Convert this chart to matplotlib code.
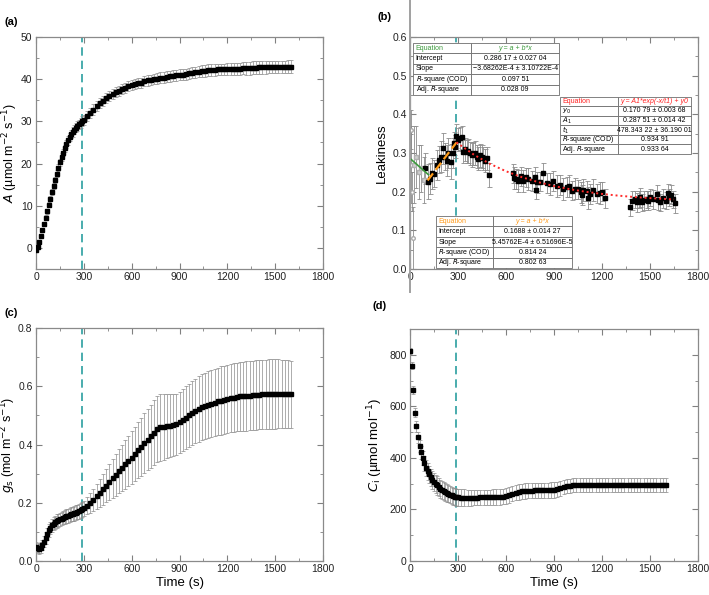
import matplotlib
matplotlib.use('Agg')
import matplotlib.pyplot as plt
from matplotlib.table import Table
from matplotlib.lines import Line2D
from matplotlib.ticker import MultipleLocator, FormatStrFormatter

plt.rcParams['font.family'] = ['Liberation Sans', 'DejaVu Sans']

# time grid (s): 10 s steps at first, then 20 s
time = list(range(0, 300, 10)) + list(range(300, 1601, 20))

A_mean = [-0.5, 0.3, 1.5, 2.8, 4.2, 5.7, 7.2, 8.7, 10.2, 11.7,
          13.2, 14.7, 16.1, 17.6, 19.0, 20.3, 21.5, 22.6, 23.6, 24.6,
          25.5, 26.3, 27.0, 27.5, 28.0, 28.5, 28.9, 29.3, 29.7, 30.0,
          30.4, 31.2, 32.0, 32.8, 33.6,
          34.3, 34.9, 35.5, 36.0, 36.5,
          36.9, 37.3, 37.7, 38.0, 38.3,
          38.6, 38.8, 39.0, 39.2, 39.5,
          39.7, 39.8, 40.0, 40.1, 40.3,
          40.4, 40.6, 40.7, 40.8, 40.9,
          41.0, 41.1, 41.2, 41.4, 41.5,
          41.7, 41.8, 41.9, 42.0, 42.1,
          42.1, 42.2, 42.3, 42.3, 42.3,
          42.4, 42.4, 42.5, 42.5, 42.5,
          42.6, 42.6, 42.6, 42.7, 42.7,
          42.8, 42.8, 42.8, 42.9, 42.9,
          42.9, 42.9, 42.9, 42.9, 43.0,
          43.0]
A_err = [0.3, 0.3, 0.4, 0.4, 0.5, 0.5, 0.5, 0.6, 0.6, 0.6,
         0.7, 0.7, 0.7, 0.8, 0.8, 0.8, 0.9, 0.9, 0.9, 1.0,
         1.0, 1.0, 1.0, 1.1, 1.1, 1.1, 1.1, 1.1, 1.2, 1.2,
         1.2, 1.2, 1.2, 1.2, 1.2,
         1.2, 1.2, 1.2, 1.2, 1.2,
         1.2, 1.2, 1.2, 1.2, 1.2,
         1.2, 1.2, 1.2, 1.2, 1.2,
         1.2, 1.2, 1.2, 1.3, 1.3,
         1.3, 1.3, 1.3, 1.3, 1.3,
         1.3, 1.3, 1.3, 1.3, 1.3,
         1.3, 1.3, 1.4, 1.4, 1.4,
         1.4, 1.4, 1.4, 1.4, 1.4,
         1.4, 1.4, 1.4, 1.4, 1.4,
         1.4, 1.5, 1.5, 1.5, 1.5,
         1.5, 1.5, 1.5, 1.5, 1.5,
         1.5, 1.5, 1.5, 1.5, 1.5,
         1.5]

gs_mean = [0.048, 0.044, 0.041, 0.046, 0.055, 0.067, 0.080, 0.093, 0.105, 0.114,
           0.122, 0.128, 0.133, 0.137, 0.140, 0.143, 0.146, 0.149, 0.151, 0.153,
           0.155, 0.158, 0.160, 0.162, 0.164, 0.166, 0.169, 0.171, 0.174, 0.177,
           0.181, 0.190, 0.200, 0.211, 0.222,
           0.234, 0.246, 0.259, 0.271, 0.284,
           0.296, 0.308, 0.320, 0.332, 0.343,
           0.355, 0.367, 0.380, 0.392, 0.405,
           0.417, 0.429, 0.441, 0.452, 0.460,
           0.461, 0.463, 0.465, 0.467, 0.470,
           0.476, 0.484, 0.492, 0.500, 0.508,
           0.515, 0.522, 0.528, 0.532, 0.536,
           0.540, 0.544, 0.548, 0.551, 0.554,
           0.557, 0.559, 0.561, 0.563, 0.565,
           0.566, 0.567, 0.568, 0.569, 0.570,
           0.571, 0.572, 0.572, 0.573, 0.573,
           0.574, 0.574, 0.574, 0.574, 0.573,
           0.573]
gs_err = [0.018, 0.018, 0.018, 0.018, 0.018, 0.019, 0.020, 0.020, 0.021, 0.021,
          0.022, 0.022, 0.022, 0.023, 0.023, 0.023, 0.023, 0.023, 0.024, 0.024,
          0.024, 0.024, 0.024, 0.025, 0.025, 0.025, 0.025, 0.025, 0.025, 0.026,
          0.026, 0.030, 0.034, 0.038, 0.043,
          0.048, 0.053, 0.058, 0.063, 0.068,
          0.072, 0.076, 0.080, 0.084, 0.087,
          0.090, 0.093, 0.096, 0.099, 0.102,
          0.105, 0.108, 0.111, 0.113, 0.115,
          0.113, 0.110, 0.108, 0.106, 0.105,
          0.106, 0.107, 0.108, 0.109, 0.110,
          0.111, 0.112, 0.113, 0.114, 0.115,
          0.115, 0.116, 0.116, 0.117, 0.117,
          0.117, 0.117, 0.118, 0.118, 0.118,
          0.118, 0.119, 0.119, 0.119, 0.119,
          0.119, 0.119, 0.119, 0.119, 0.119,
          0.119, 0.118, 0.117, 0.116, 0.116,
          0.115]

Ci_mean = [815, 757, 663, 575, 522, 480, 447, 422, 399, 379,
           362, 348, 336, 324, 315, 307, 300, 293, 286, 279,
           275, 271, 267, 264, 261, 258, 255, 252, 250, 248,
           247, 246, 246, 246, 246,
           246, 246, 247, 247, 247,
           247, 248, 248, 249, 250,
           252, 256, 261, 265, 268,
           270, 272, 273, 273, 274,
           274, 274, 274, 274, 275,
           276, 279, 283, 287, 290,
           292, 294, 295, 296, 296,
           296, 296, 296, 296, 296,
           296, 296, 296, 296, 296,
           296, 296, 296, 296, 296,
           296, 296, 296, 295, 295,
           295, 295, 295, 295, 295,
           295]
Ci_err = [12, 14, 16, 18, 20, 22, 24, 26, 28, 30,
          31, 32, 33, 34, 35, 35, 35, 35, 35, 35,
          35, 35, 35, 34, 34, 34, 33, 33, 33, 33,
          33, 32, 32, 31, 31,
          30, 30, 30, 30, 30,
          30, 30, 30, 30, 30,
          30, 30, 30, 30, 30,
          30, 30, 30, 30, 30,
          30, 30, 30, 30, 30,
          30, 29, 29, 28, 28,
          28, 27, 27, 27, 27,
          27, 27, 27, 27, 27,
          27, 27, 27, 27, 27,
          27, 27, 27, 27, 27,
          27, 27, 27, 27, 27,
          27, 27, 27, 27, 27,
          27]

# leakiness (panel b)
leak_open_t = [4, 8, 12, 16]
leak_open_y = [0.36, 0.27, 0.20, 0.08]
leak_open_err = [0.05, 0.10, 0.05, 0.08]
leak_grey_t = [25, 40, 55, 70, 85]
leak_grey_y = [0.27, 0.29, 0.25, 0.26, 0.23]
leak_grey_err = [0.10, 0.08, 0.07, 0.06, 0.06]

leak_t = [94, 110, 125, 140, 153, 167, 182, 194, 208, 219,
          229, 240, 257, 267, 273, 281, 288, 302, 313, 323,
          333, 343, 354, 364, 375, 385, 396, 406, 417, 427,
          437, 448, 458, 468, 479, 496,
          646, 650, 662, 677, 692, 708, 725, 740, 760, 781,
          790, 796, 812, 833, 854, 875, 896, 917, 937, 954,
          979, 996, 1010, 1031, 1052, 1069, 1074, 1083, 1104, 1115,
          1125, 1142, 1167, 1188, 1198, 1219,
          1375, 1390, 1405, 1417, 1430, 1437, 1450, 1465, 1479, 1490,
          1500, 1520, 1541, 1550, 1562, 1580, 1600, 1614, 1620, 1629,
          1641, 1656]
leak_y = [0.260, 0.226, 0.234, 0.247, 0.246, 0.269, 0.282, 0.290, 0.312, 0.290,
          0.280, 0.300, 0.277, 0.300, 0.325, 0.316, 0.344, 0.334, 0.338, 0.341,
          0.303, 0.310, 0.303, 0.305, 0.299, 0.295, 0.298, 0.300, 0.290, 0.285,
          0.294, 0.290, 0.286, 0.280, 0.286, 0.243,
          0.247, 0.235, 0.233, 0.227, 0.240, 0.228, 0.237, 0.232, 0.228, 0.237,
          0.205, 0.224, 0.226, 0.247, 0.222, 0.220, 0.228, 0.215, 0.217, 0.207,
          0.212, 0.215, 0.203, 0.208, 0.206, 0.198, 0.191, 0.205, 0.202, 0.183,
          0.194, 0.204, 0.195, 0.197, 0.200, 0.183,
          0.160, 0.177, 0.181, 0.172, 0.180, 0.185, 0.172, 0.178, 0.181, 0.177,
          0.185, 0.180, 0.194, 0.178, 0.172, 0.183, 0.177, 0.196, 0.186, 0.192,
          0.180, 0.170]
leak_err = [0.040, 0.045, 0.040, 0.040, 0.035, 0.040, 0.035, 0.040, 0.040, 0.035,
            0.040, 0.040, 0.045, 0.040, 0.030, 0.030, 0.030, 0.030, 0.030, 0.030,
            0.030, 0.030, 0.030, 0.030, 0.030, 0.030, 0.030, 0.030, 0.030, 0.030,
            0.030, 0.030, 0.030, 0.030, 0.030, 0.030,
            0.025, 0.028, 0.025, 0.028, 0.025, 0.028, 0.025, 0.028, 0.025, 0.028,
            0.025, 0.028, 0.025, 0.028, 0.025, 0.028, 0.025, 0.028, 0.025, 0.028,
            0.025, 0.028, 0.025, 0.028, 0.025, 0.028, 0.025, 0.028, 0.025, 0.028,
            0.025, 0.028, 0.025, 0.028, 0.025, 0.025,
            0.022, 0.025, 0.022, 0.025, 0.022, 0.025, 0.022, 0.025, 0.022, 0.025,
            0.022, 0.025, 0.022, 0.025, 0.022, 0.025, 0.022, 0.025, 0.022, 0.025,
            0.022, 0.025]

green_x = [0, 115]
green_y = [0.286, 0.244]
orange_x = [110, 290]
orange_y = [0.229, 0.327]
red_x = [290, 400, 500, 600, 700, 800, 900, 1000, 1100, 1200, 1300, 1400, 1500, 1650]
red_y = [0.3276, 0.2954, 0.2719, 0.2528, 0.2373, 0.2248, 0.2146, 0.2063, 0.1996,
         0.1942, 0.1898, 0.1862, 0.1833, 0.1799]

table_green = [['Equation', 'y = a + b*x'],
               ['Intercept', '0.286 17 \u00b1 0.027 04'],
               ['Slope', '\u22123.68262E-4 \u00b1 3.10722E-4'],
               ['$R$-square (COD)', '0.097 51'],
               ['Adj. $R$-square', '0.028 09']]
table_red = [['Equation', 'y = A1*exp(-x/t1) + y0'],
             ['$y_0$', '0.170 79 \u00b1 0.003 68'],
             ['$A_1$', '0.287 51 \u00b1 0.014 42'],
             ['$t_1$', '478.343 22 \u00b1 36.190 01'],
             ['$R$-square (COD)', '0.934 91'],
             ['Adj. $R$-square', '0.933 64']]
table_orange = [['Equation', 'y = a + b*x'],
                ['Intercept', '0.1688 \u00b1 0.014 27'],
                ['Slope', '5.45762E-4 \u00b1 6.51696E-5'],
                ['$R$-square (COD)', '0.814 24'],
                ['Adj. $R$-square', '0.802 63']]

light_x = 290
teal = '#2a9ea0'
grey = '#8c8c8c'


def style_axes(ax, xmaj, xmin, ymaj, ymin):
    ax.xaxis.set_major_locator(MultipleLocator(xmaj))
    ax.xaxis.set_minor_locator(MultipleLocator(xmin))
    ax.yaxis.set_major_locator(MultipleLocator(ymaj))
    ax.yaxis.set_minor_locator(MultipleLocator(ymin))
    ax.tick_params(which='both', direction='in', top=True, right=True,
                   color='#808080', labelsize=7.5, labelcolor='#222222', pad=2.5)
    ax.tick_params(which='major', length=4)
    ax.tick_params(which='minor', length=2.5)
    for s in ax.spines.values():
        s.set_color('#8a8a8a')
        s.set_linewidth(0.9)


def fit_table(ax, rows, color, bbox, split):
    tbl = Table(ax, bbox=bbox)
    n = len(rows)
    for r, row in enumerate(rows):
        for c, txt in enumerate(row):
            w = split if c == 0 else 1 - split
            cell = tbl.add_cell(r, c, width=w, height=1.0 / n, text=txt,
                                loc='left' if c == 0 else 'center',
                                facecolor='white', edgecolor='#6e6e6e')
            cell.set_linewidth(0.6)
            cell.PAD = 0.04
            t = cell.get_text()
            t.set_fontsize(5.0)
            if r == 0:
                t.set_color(color)
                if c == 1:
                    t.set_fontstyle('italic')
    tbl.auto_set_font_size(False)
    tbl.set_zorder(6)
    ax.add_table(tbl)


def draw_series(ax, y, e):
    ax.errorbar(time, y, yerr=e, fmt='s', ms=2.3, mfc='black', mec='black',
                ecolor=grey, elinewidth=0.5, capsize=1.4, capthick=0.5, zorder=3)


fig = plt.figure(figsize=(7.09, 5.95), dpi=100)

ax_a = fig.add_axes([0.0508, 0.5479, 0.4048, 0.3899])
ax_b = fig.add_axes([0.5783, 0.5479, 0.4062, 0.3899])
ax_c = fig.add_axes([0.0508, 0.0571, 0.4048, 0.3916])
ax_d = fig.add_axes([0.5783, 0.0571, 0.4062, 0.3900])

# (a)
draw_series(ax_a, A_mean, A_err)
ax_a.axvline(light_x, color=teal, ls=(0, (5, 3)), lw=1.2, zorder=2)
ax_a.set_xlim(0, 1800)
ax_a.set_ylim(-5, 50)
style_axes(ax_a, 300, 150, 10, 5)
ax_a.set_ylabel('$A$ (\u00b5mol m$^{-2}$ s$^{-1}$)', fontsize=9)
ax_a.yaxis.set_label_coords(-0.056, 0.5)

# (b)
ax_b.errorbar(leak_open_t, leak_open_y, yerr=leak_open_err, fmt='o', ms=2.6,
              mfc='white', mec='#aaaaaa', ecolor=grey, elinewidth=0.6,
              capsize=1.6, capthick=0.6, zorder=3)
ax_b.errorbar(leak_grey_t, leak_grey_y, yerr=leak_grey_err, fmt='s', ms=2.2,
              mfc='#d0d0d0', mec='#b0b0b0', ecolor=grey, elinewidth=0.6,
              capsize=1.6, capthick=0.6, zorder=3)
ax_b.errorbar(leak_t, leak_y, yerr=leak_err, fmt='s', ms=2.4, mfc='black',
              mec='black', ecolor=grey, elinewidth=0.6, capsize=1.8,
              capthick=0.6, zorder=3)
ax_b.plot(green_x, green_y, color='#3c9a3c', lw=1.2, zorder=4)
ax_b.plot(orange_x, orange_y, color='#ff9c1a', lw=1.6, ls=(0, (4, 2)), zorder=4)
ax_b.plot(red_x, red_y, color='#ff2a2a', lw=1.4, ls=(0, (1, 1.5)), zorder=4)
ax_b.axvline(light_x, color=teal, ls=(0, (5, 3)), lw=1.2, zorder=2)
ax_b.set_xlim(0, 1800)
ax_b.set_ylim(0, 0.6)
style_axes(ax_b, 300, 150, 0.1, 0.05)
ax_b.yaxis.set_major_formatter(FormatStrFormatter('%.1f'))
ax_b.set_ylabel('Leakiness', fontsize=9.5, labelpad=3)
fit_table(ax_b, table_green, '#3c9a3c', [0.011, 0.75, 0.506, 0.225], 0.40)
fit_table(ax_b, table_red, '#ff2020', [0.521, 0.496, 0.455, 0.247], 0.44)
fit_table(ax_b, table_orange, '#ff9a1a', [0.090, 0.004, 0.472, 0.224], 0.42)

# stray vertical rule at the left edge of panel (b)
fig.add_artist(Line2D([410 / 709, 410 / 709], [1.0, 1 - 292 / 595],
                      transform=fig.transFigure, color='#a0a0a0', lw=1.4))

# (c)
draw_series(ax_c, gs_mean, gs_err)
ax_c.axvline(light_x, color=teal, ls=(0, (5, 3)), lw=1.2, zorder=2)
ax_c.set_xlim(0, 1800)
ax_c.set_ylim(0, 0.8)
style_axes(ax_c, 300, 150, 0.2, 0.1)
ax_c.yaxis.set_major_formatter(FormatStrFormatter('%.1f'))
ax_c.set_ylabel('$g_\\mathrm{s}$ (mol m$^{-2}$ s$^{-1}$)', fontsize=9)
ax_c.yaxis.set_label_coords(-0.062, 0.5)
ax_c.set_xlabel('Time (s)', fontsize=9.5, labelpad=2)

# (d)
draw_series(ax_d, Ci_mean, Ci_err)
ax_d.axvline(light_x, color=teal, ls=(0, (5, 3)), lw=1.2, zorder=2)
ax_d.set_xlim(0, 1800)
ax_d.set_ylim(0, 900)
style_axes(ax_d, 300, 150, 200, 100)
ax_d.set_ylabel('$C_\\mathrm{i}$ (\u00b5mol mol$^{-1}$)', fontsize=9.5, labelpad=3)
ax_d.set_xlabel('Time (s)', fontsize=9.5, labelpad=2)

fig.text(0.007, 0.963, '(a)', fontsize=8, fontweight='bold', va='center')
fig.text(0.532, 0.972, '(b)', fontsize=8, fontweight='bold', va='center')
fig.text(0.007, 0.474, '(c)', fontsize=8, fontweight='bold', va='center')
fig.text(0.526, 0.486, '(d)', fontsize=8, fontweight='bold', va='center')

fig.savefig('out.png', dpi=100)
